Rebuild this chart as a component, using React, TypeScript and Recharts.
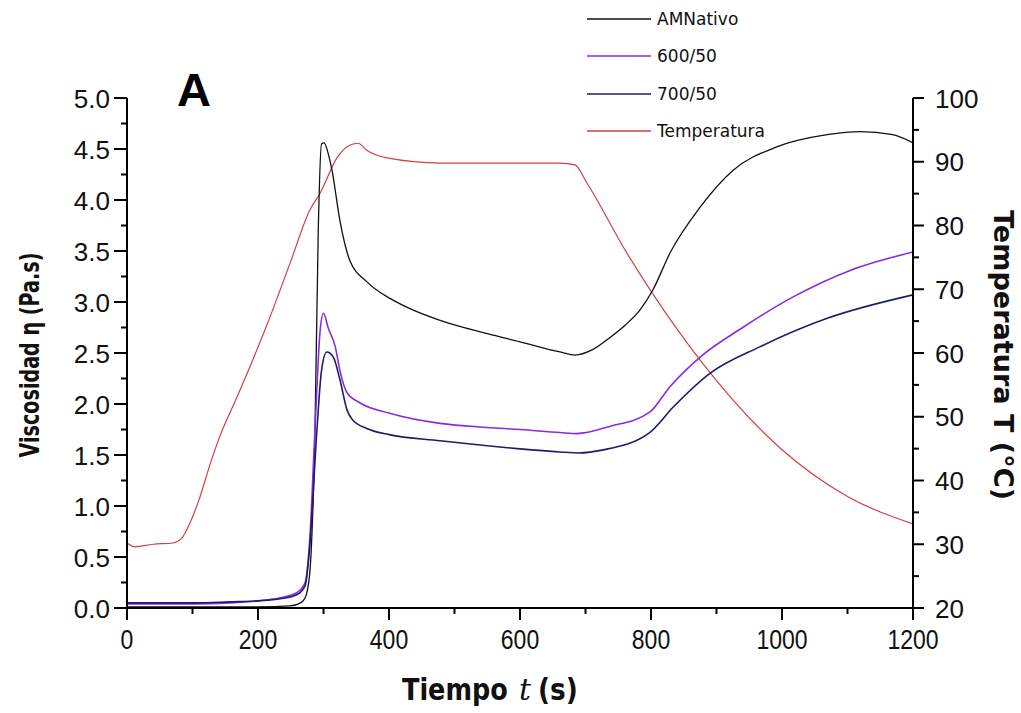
import { Legend, Line, LineChart, XAxis, YAxis } from "recharts";

// AMNativo viscosity (Pa.s) vs time (s)
const amTime = [0, 100, 200, 249, 265, 272, 279, 282, 287, 292, 297, 301, 307, 313, 325, 340, 366, 400, 427, 478, 550, 600, 661, 684, 710, 737, 760, 783, 803, 829, 875, 925, 992, 1069, 1119, 1169, 1200];
const amVisc = [0.01, 0.01, 0.01, 0.02, 0.05, 0.1, 0.34, 0.67, 1.75, 3.7, 4.55, 4.56, 4.46, 4.29, 3.8, 3.41, 3.2, 3.04, 2.95, 2.82, 2.69, 2.61, 2.51, 2.48, 2.53, 2.65, 2.77, 2.92, 3.12, 3.48, 3.93, 4.29, 4.52, 4.64, 4.67, 4.64, 4.56];

// 600/50
const s600Time = [0, 50, 100, 157, 200, 234, 259, 272, 279, 287, 295, 300, 307, 318, 325, 336, 356, 401, 478, 550, 600, 661, 687, 737, 798, 829, 875, 940, 1017, 1104, 1200];
const s600Visc = [0.04, 0.04, 0.04, 0.05, 0.07, 0.1, 0.15, 0.25, 0.67, 1.75, 2.73, 2.89, 2.75, 2.56, 2.33, 2.11, 2.01, 1.91, 1.81, 1.77, 1.75, 1.72, 1.71, 1.78, 1.92, 2.17, 2.46, 2.75, 3.05, 3.31, 3.49];

// 700/50
const s700Time = [0, 50, 100, 157, 200, 234, 259, 272, 279, 290, 297, 305, 315, 325, 336, 345, 366, 400, 478, 550, 600, 661, 690, 727, 798, 834, 890, 966, 1069, 1200];
const s700Visc = [0.05, 0.05, 0.05, 0.06, 0.07, 0.09, 0.13, 0.22, 0.6, 1.75, 2.33, 2.51, 2.46, 2.24, 1.94, 1.84, 1.76, 1.7, 1.64, 1.59, 1.56, 1.53, 1.52, 1.55, 1.72, 1.97, 2.3, 2.56, 2.84, 3.07];

// Temperatura (°C)
const tempTime = [0, 12, 40, 70, 84, 96, 111, 127, 142, 168, 192, 214, 249, 279, 295, 321, 340, 353, 366, 397, 478, 600, 661, 684, 702, 763, 802, 875, 997, 1100, 1200];
const tempVals = [30.2, 29.6, 30.0, 30.2, 31.0, 33.3, 37.3, 42.6, 47.0, 53.1, 58.9, 64.5, 74.1, 82.4, 85.1, 90.7, 92.6, 92.9, 91.8, 90.6, 89.8, 89.8, 89.8, 89.5, 86.7, 75.7, 69.4, 58.9, 45.1, 37.5, 33.2];

const xTicks = [0, 100, 200, 300, 400, 500, 600, 700, 800, 900, 1000, 1100, 1200];
const viscTicks = [0, 0.25, 0.5, 0.75, 1, 1.25, 1.5, 1.75, 2, 2.25, 2.5, 2.75, 3, 3.25, 3.5, 3.75, 4, 4.25, 4.5, 4.75, 5];
const tempTicks = [20, 25, 30, 35, 40, 45, 50, 55, 60, 65, 70, 75, 80, 85, 90, 95, 100];

const legendItems = [
  { name: "AMNativo", color: "#111111" },
  { name: "600/50", color: "#8a2be2" },
  { name: "700/50", color: "#1c1c6b" },
  { name: "Temperatura", color: "#d24040" },
];

const zip = (xs: number[], ys: number[]) => xs.map((t, i) => ({ t, v: ys[i] }));
const amData = zip(amTime, amVisc);
const s600Data = zip(s600Time, s600Visc);
const s700Data = zip(s700Time, s700Visc);
const tempData = zip(tempTime, tempVals);

const tickFont = "'Liberation Sans', Arial, sans-serif";
const titleFont = "'DejaVu Sans', sans-serif";

function XTick({ x, y, payload }: any) {
  const major = payload.value % 200 === 0;
  const label = String(payload.value);
  return (
    <g>
      <line x1={x} y1={y} x2={x} y2={y + (major ? 12 : 6)} stroke="#000" strokeWidth={2} />
      {major && (
        <text
          x={x}
          y={y + 41}
          textAnchor="middle"
          fontSize={27}
          fontFamily={tickFont}
          textLength={label.length * 12.8}
          lengthAdjust="spacingAndGlyphs"
          fill="#111"
        >
          {label}
        </text>
      )}
    </g>
  );
}

function LeftTick({ x, y, payload }: any) {
  const major = Math.abs(payload.value * 2 - Math.round(payload.value * 2)) < 1e-6;
  return (
    <g>
      <line x1={x} y1={y} x2={x - (major ? 13 : 6)} y2={y} stroke="#000" strokeWidth={2} />
      {major && (
        <text x={x - 17} y={y + 9.5} textAnchor="end" fontSize={26} fontFamily={tickFont} fill="#111">
          {payload.value.toFixed(1)}
        </text>
      )}
    </g>
  );
}

function RightTick({ x, y, payload }: any) {
  const major = payload.value % 10 === 0;
  return (
    <g>
      <line x1={x} y1={y} x2={x + (major ? 11 : 6)} y2={y} stroke="#000" strokeWidth={2} />
      {major && (
        <text x={x + 22} y={y + 9.5} textAnchor="start" fontSize={26} fontFamily={tickFont} fill="#111">
          {payload.value}
        </text>
      )}
    </g>
  );
}

function LegendBox() {
  return (
    <div style={{ fontFamily: titleFont, fontSize: 17, color: "#111" }}>
      {legendItems.map((s) => (
        <div key={s.name} style={{ display: "flex", alignItems: "center", height: 37.5 }}>
          <svg width={64} height={4}>
            <line x1={0} y1={2} x2={64} y2={2} stroke={s.color} strokeWidth={1.5} />
          </svg>
          <span style={{ marginLeft: 6 }}>{s.name}</span>
        </div>
      ))}
    </div>
  );
}

export default function App() {
  return (
    <div style={{ position: "absolute", left: 0, top: 0, width: 1021, height: 713, background: "#fff" }}>
      <LineChart width={1021} height={713} margin={{ top: 98, right: 28, bottom: 35, left: 47 }}>
        <XAxis
          type="number"
          dataKey="t"
          domain={[0, 1200]}
          ticks={xTicks}
          interval={0}
          height={70}
          tickSize={0}
          tickMargin={0}
          tick={<XTick />}
          axisLine={{ stroke: "#000", strokeWidth: 2 }}
          allowDataOverflow
          label={{
            content: () => (
              <g fill="#111" fontSize={30} fontWeight="bold" fontFamily={titleFont}>
                <text transform="translate(402,700) scale(0.85,1)">Tiempo</text>
                <text x={519} y={700} fontFamily="'DejaVu Serif', serif" fontStyle="italic" fontWeight="normal">
                  t
                </text>
                <text transform="translate(538,700) scale(0.88,1)">(s)</text>
              </g>
            ),
          }}
        />
        <YAxis
          yAxisId="left"
          orientation="left"
          type="number"
          domain={[0, 5]}
          ticks={viscTicks}
          interval={0}
          width={80}
          tickSize={0}
          tickMargin={0}
          tick={<LeftTick />}
          axisLine={{ stroke: "#000", strokeWidth: 2 }}
          allowDataOverflow
          label={{
            content: () => (
              <g>
                <text
                  transform="translate(29,355) rotate(-90)"
                  textAnchor="middle"
                  dominantBaseline="central"
                  fontSize={27}
                  fontWeight="bold"
                  fontFamily={titleFont}
                  fill="#111"
                  textLength={205}
                  lengthAdjust="spacingAndGlyphs"
                >
                  Viscosidad η (Pa.s)
                </text>
                <text x={177} y={106} fontSize={47} fontWeight="bold" fontFamily="'Liberation Sans', Arial, sans-serif" fill="#000">
                  A
                </text>
              </g>
            ),
          }}
        />
        <YAxis
          yAxisId="right"
          orientation="right"
          type="number"
          domain={[20, 100]}
          ticks={tempTicks}
          interval={0}
          width={80}
          tickSize={0}
          tickMargin={0}
          tick={<RightTick />}
          axisLine={{ stroke: "#000", strokeWidth: 2 }}
          allowDataOverflow
          label={{
            content: () => (
              <text
                transform="translate(1003,355) rotate(90)"
                textAnchor="middle"
                dominantBaseline="central"
                fontSize={27}
                fontWeight="bold"
                fontFamily={titleFont}
                fill="#111"
                textLength={290}
                lengthAdjust="spacingAndGlyphs"
              >
                Temperatura T (°C)
              </text>
            ),
          }}
        />
        <Legend
          layout="horizontal"
          verticalAlign="middle"
          align="center"
          content={<LegendBox />}
          wrapperStyle={{ top: 0, left: 587, width: 240 }}
        />
        <Line yAxisId="right" data={tempData} dataKey="v" name="Temperatura" type="monotone" stroke="#d24040" strokeWidth={1.2} dot={false} isAnimationActive={false} />
        <Line yAxisId="left" data={amData} dataKey="v" name="AMNativo" type="monotone" stroke="#111111" strokeWidth={1.3} dot={false} isAnimationActive={false} />
        <Line yAxisId="left" data={s600Data} dataKey="v" name="600/50" type="monotone" stroke="#8a2be2" strokeWidth={1.6} dot={false} isAnimationActive={false} />
        <Line yAxisId="left" data={s700Data} dataKey="v" name="700/50" type="monotone" stroke="#1c1c6b" strokeWidth={1.6} dot={false} isAnimationActive={false} />
      </LineChart>
    </div>
  );
}
